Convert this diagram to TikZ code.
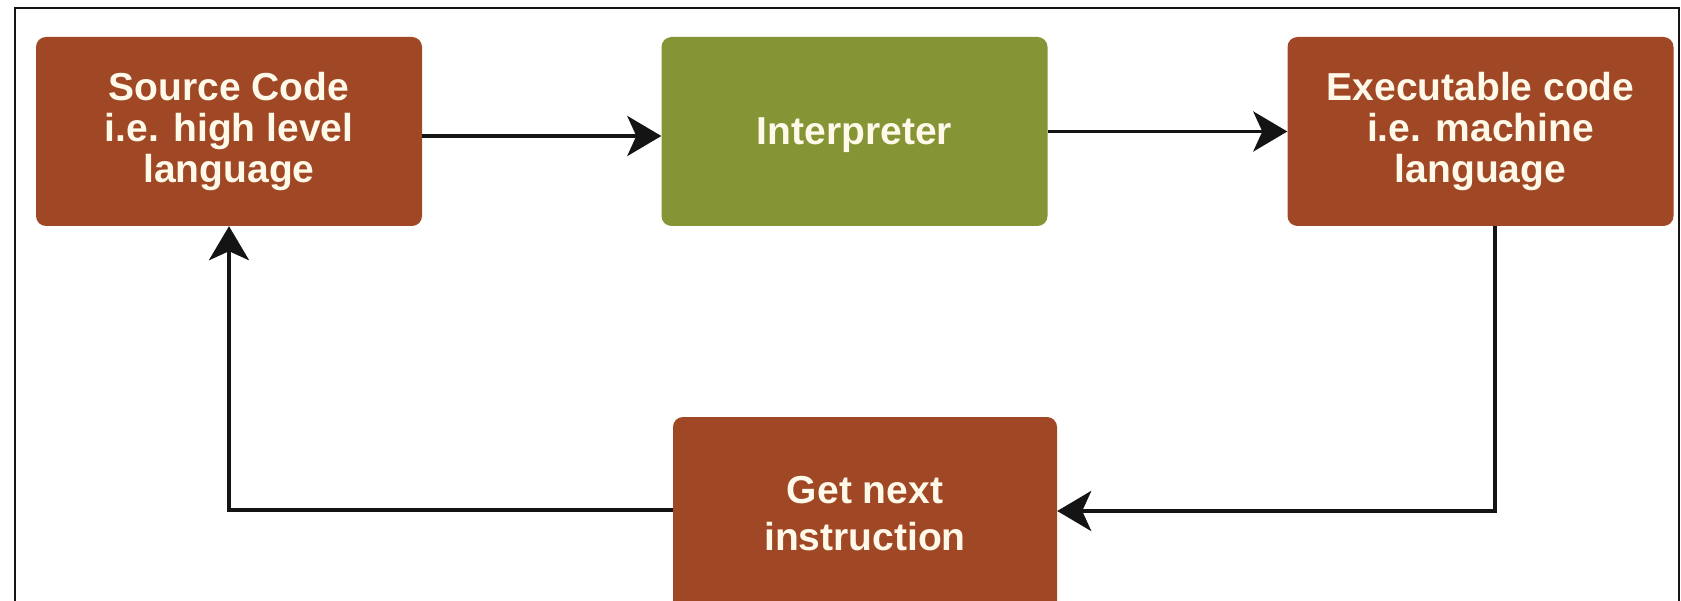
\documentclass[tikz,border=0pt]{standalone}
\usepackage{fontspec}
\setmainfont{Liberation Sans}
\usetikzlibrary{arrows.meta}

\definecolor{boxbrown}{RGB}{160,72,37}
\definecolor{boxgreen}{RGB}{133,148,52}
\definecolor{boxtext}{RGB}{255,249,234}
\definecolor{linedark}{RGB}{20,20,20}

\tikzset{
  procbox/.style={rectangle, rounded corners=10pt, draw=none,
    minimum width=386pt, minimum height=189pt, inner sep=0pt,
    text=boxtext, align=center,
    font=\fontsize{39}{41}\selectfont\bfseries},
  brownbox/.style={procbox, fill=boxbrown},
  greenbox/.style={procbox, fill=boxgreen},
  flow/.style={draw=linedark, line width=3.8pt,
    -{Stealth[length=34pt, width=40pt, inset=9pt]}},
  frame/.style={draw=linedark, line width=2pt}
}

\begin{document}
\begin{tikzpicture}[x=1pt, y=-1pt]
  \useasboundingbox (0,0) rectangle (1681,601);
  \clip (0,0) rectangle (1681,601);
  \fill[white] (0,0) rectangle (1681,601);

  % outer frame (open at the bottom)
  \draw[frame] (15,620) -- (15,8) -- (1679,8) -- (1679,620);

  % process boxes
  \node[brownbox] (src)    at (229,131.5)   {Source Code\\i.e. high level\\language};
  \node[greenbox] (interp) at (854.5,131.5) {\rule{0pt}{35pt}Interpreter};
  \node[brownbox] (exec)   at (1480.5,131.5) {Executable code\\i.e. machine\\language};
  \node[brownbox, minimum height=194pt, minimum width=384pt] (next) at (865,514)
    {Get next\\[6pt]instruction};

  % forward flow
  \draw[flow] ([yshift=-4.5pt]src.east) -- ([yshift=-4.5pt]interp.west);
  \draw[flow] (interp.east) -- (exec.west);

  % loop back through the next instruction
  \coordinate (down) at ([xshift=14.5pt]exec.south);
  \draw[flow] (down) |- ([yshift=3pt]next.east);
  \draw[flow] ([yshift=4pt]next.west) -| (src.south);
\end{tikzpicture}
\end{document}
